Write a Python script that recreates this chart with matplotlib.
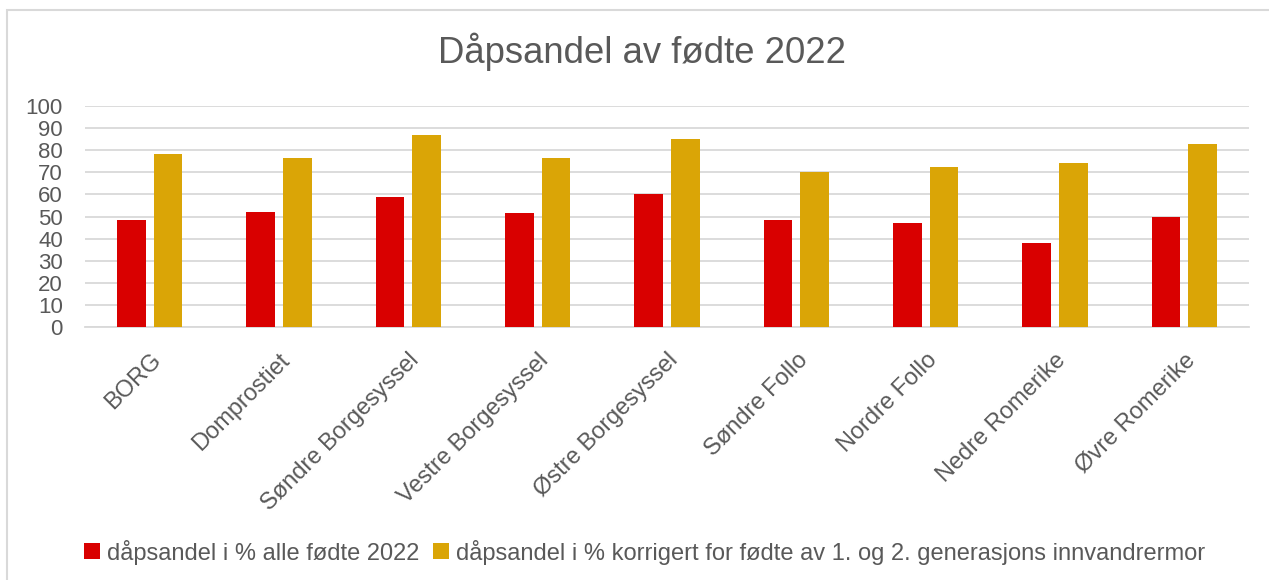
import matplotlib
matplotlib.use('Agg')
import matplotlib.pyplot as plt
from matplotlib.patches import Rectangle
import numpy as np

plt.rcParams['font.family'] = ['Liberation Sans', 'DejaVu Sans']

categories = ['BORG', 'Domprostiet', 'Søndre Borgesyssel', 'Vestre Borgesyssel',
              'Østre Borgesyssel', 'Søndre Follo', 'Nordre Follo', 'Nedre Romerike',
              'Øvre Romerike']
alle_fodte = [48.6, 52.0, 58.7, 51.4, 60.2, 48.2, 47.0, 38.0, 49.8]
korrigert = [78.2, 76.7, 86.7, 76.7, 85.1, 70.3, 72.4, 74.1, 82.8]
series_labels = ['dåpsandel i % alle fødte 2022',
                 'dåpsandel i % korrigert for fødte av 1. og 2. generasjons innvandrermor']
y_ticks = list(range(0, 101, 10))

RED = '#D90000'
GOLD = '#DAA506'
TEXT = '#595959'
GRID = '#D9D9D9'

fig = plt.figure(figsize=(12.69, 5.80), dpi=100)
ax = fig.add_axes([0.067, 0.4362, 0.9172, 0.381])

x = np.arange(len(categories))
w = 0.222
off = (w + 0.062) / 2
ax.bar(x - off, alle_fodte, w, color=RED, label=series_labels[0], zorder=3)
ax.bar(x + off, korrigert, w, color=GOLD, label=series_labels[1], zorder=3)

ax.set_xlim(-0.5, len(categories) - 0.5)
ax.set_ylim(0, 100)
ax.set_yticks(y_ticks)
ax.yaxis.grid(True, color=GRID, linewidth=1.3, zorder=0)
ax.set_axisbelow(True)
for s in ['top', 'right', 'left']:
    ax.spines[s].set_visible(False)
ax.spines['bottom'].set_color(GRID)
ax.spines['bottom'].set_linewidth(1.3)
ax.tick_params(axis='y', length=0, pad=16, labelsize=16, labelcolor=TEXT)
ax.tick_params(axis='x', length=0, pad=16, labelsize=17, labelcolor=TEXT)
ax.set_xticks(x)
ax.set_xticklabels(categories, rotation=45, ha='right', rotation_mode='anchor')

fig.suptitle('Dåpsandel av fødte 2022', x=0.506, y=0.91, va='center',
             fontsize=26.3, color=TEXT)

leg = fig.legend(loc='center', bbox_to_anchor=(0.508, 0.048), ncol=2, frameon=False,
                 fontsize=17, handlelength=0.65, handleheight=0.65,
                 handletextpad=0.3, columnspacing=0.6, borderaxespad=0)
for t in leg.get_texts():
    t.set_color(TEXT)

# chart frame (only top and left edges are visible in the crop)
fig.add_artist(Rectangle((7 / 1269, -0.1), 1.2, 1.1 - 10 / 580,
                         transform=fig.transFigure, fill=False,
                         edgecolor=GRID, linewidth=1.5))

fig.savefig('out.png', dpi=100, facecolor='white')
